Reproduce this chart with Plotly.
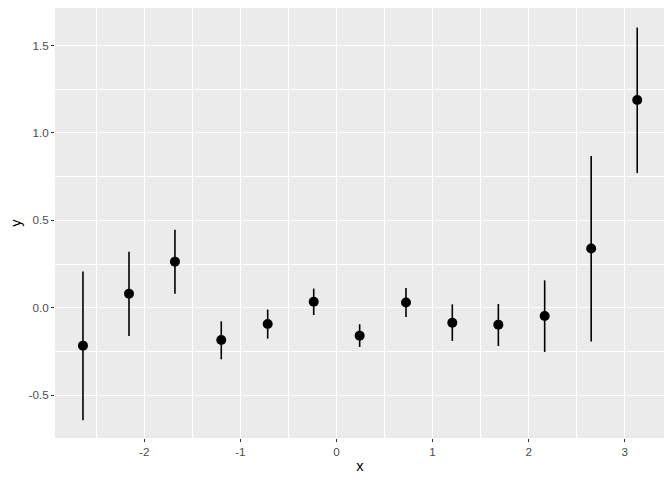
import plotly.graph_objects as go

x_vals = [-2.638, -2.159, -1.681, -1.199, -0.716, -0.237, 0.241, 0.723, 1.205, 1.684, 2.166, 2.650, 3.129]
y_vals = [-0.216, 0.081, 0.264, -0.184, -0.092, 0.035, -0.159, 0.031, -0.085, -0.096, -0.047, 0.339, 1.188]
y_min = [-0.642, -0.161, 0.081, -0.294, -0.176, -0.041, -0.224, -0.052, -0.189, -0.218, -0.252, -0.193, 0.771]
y_max = [0.208, 0.321, 0.446, -0.077, -0.010, 0.110, -0.094, 0.113, 0.020, 0.022, 0.157, 0.868, 1.602]

x_ticks = [-2, -1, 0, 1, 2, 3]
y_ticks = [-0.5, 0.0, 0.5, 1.0, 1.5]
y_tick_text = ["-0.5", "0.0", "0.5", "1.0", "1.5"]

err_plus = [hi - m for hi, m in zip(y_max, y_vals)]
err_minus = [m - lo for lo, m in zip(y_min, y_vals)]

fig = go.Figure()
fig.add_trace(go.Scatter(
    x=x_vals, y=y_vals, mode="markers",
    marker=dict(color="black", size=10),
    error_y=dict(type="data", array=err_plus, arrayminus=err_minus,
                 symmetric=False, width=0, thickness=1.6, color="black"),
    showlegend=False,
))

font_family = "Liberation Sans, Arial, sans-serif"
fig.update_layout(
    width=664, height=472,
    margin=dict(l=47, r=7, t=0, b=42),
    paper_bgcolor="white", plot_bgcolor="#EBEBEB",
    font=dict(family=font_family),
    xaxis=dict(
        range=[-2.929, 3.418], tickvals=x_ticks, ticktext=[str(v) for v in x_ticks],
        showgrid=True, gridcolor="white", gridwidth=1.1, zeroline=False,
        ticks="outside", ticklen=3, tickcolor="#333333", tickwidth=1,
        tickfont=dict(size=11.7, color="#4D4D4D", family=font_family),
        minor=dict(tick0=0.5, dtick=1, showgrid=True, gridcolor="white", gridwidth=0.55, ticks=""),
        title=dict(text="x", font=dict(size=14.7, color="black", family=font_family), standoff=3),
        showline=False, automargin=False,
    ),
    yaxis=dict(
        range=[-0.744, 1.714], tickvals=y_ticks, ticktext=y_tick_text,
        showgrid=True, gridcolor="white", gridwidth=1.1, zeroline=False,
        ticks="outside", ticklen=3, tickcolor="#333333", tickwidth=1,
        tickfont=dict(size=11.7, color="#4D4D4D", family=font_family),
        minor=dict(tick0=0.25, dtick=0.5, showgrid=True, gridcolor="white", gridwidth=0.55, ticks=""),
        title=dict(text="y", font=dict(size=14.7, color="black", family=font_family), standoff=6),
        showline=False, automargin=False,
    ),
)

fig.write_html("out.html")
